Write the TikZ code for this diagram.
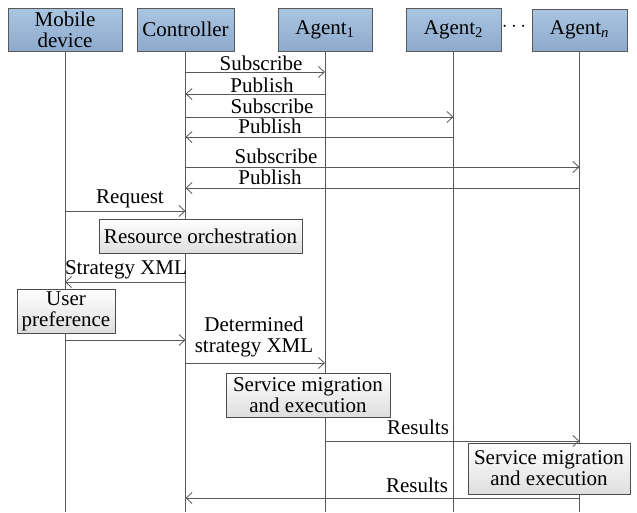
\documentclass[tikz,border=0pt]{standalone}
\usepackage{fontspec}
\setmainfont{Liberation Serif}
\usetikzlibrary{arrows.meta}
\definecolor{headtop}{HTML}{AAC5E1}
\definecolor{headbot}{HTML}{8DAACD}
\definecolor{edge}{HTML}{595959}

\begin{document}
\begin{tikzpicture}[
    x=1pt, y=-1pt,
    font=\fontsize{21}{21}\selectfont,
    actor/.style={draw=edge, line width=0.9pt, top color=headtop, bottom color=headbot,
        minimum height=43pt, inner sep=1pt, align=center},
    task/.style={draw=black!70, line width=0.8pt, top color=white, bottom color=black!13,
        inner sep=1pt, align=center},
    lifeline/.style={draw=edge, line width=0.8pt},
    msg/.style={draw=edge, line width=0.8pt, -{Straight Barb[length=6pt, width=11pt]}},
    lbl/.style={anchor=base, inner sep=0pt}
]
\useasboundingbox (0,0) rectangle (637,512);

\node[actor, minimum width=114pt] (mob) at (65,29.5) {Mobile\\device};
\node[actor, minimum width=97pt] (ctrl) at (185.5,29.5) {Controller};
\node[actor, minimum width=94pt] (ag1) at (325,29.5) {Agent\textsubscript{1}};
\node[actor, minimum width=95pt] (ag2) at (453.5,29.5) {Agent\textsubscript{2}};
\node[actor, minimum width=95pt, minimum height=42pt] (agn) at (579.5,30) {Agent\textsubscript{\textit{n}}};
\node (dots) at (514,27) {$\cdots$};

\foreach \n in {mob,ctrl,ag1,ag2,agn}{\draw[lifeline] (\n.south) -- (\n |- 0,512);}

\node[task, minimum width=203pt, minimum height=34pt] (orch) at (200.5,236) {Resource orchestration};
\node[task, minimum width=98pt, minimum height=44pt] (pref) at (66,311) {User\\preference};
\node[task, minimum width=164pt, minimum height=44pt] (exec1) at (308,395) {Service migration\\and execution};
\node[task, minimum width=162pt, minimum height=51pt] (exec2) at (549,468.5) {Service migration\\and execution};

\foreach \a/\b/\y/\lx/\ly/\txt in {ctrl/ag1/72/261/70/Subscribe, ag1/ctrl/94/262/92/Publish,
    ctrl/ag2/117/272/113/Subscribe, ag2/ctrl/137/270/133/Publish,
    ctrl/agn/167/276/163/Subscribe, agn/ctrl/188/270/184/Publish,
    mob/ctrl/211/130/203/Request, ctrl/mob/282/126/274/Strategy XML,
    ag1/agn/441/418/434/Results, agn/ctrl/498/417/492/Results}{
  \draw[msg] (\a |- 0,\y) -- (\b |- 0,\y);
  \node[lbl] (m\y) at (\lx,\ly) {\txt};
}
\draw[msg] (mob |- 0,340) -- (ctrl |- 0,340);
\draw[msg] (ctrl |- 0,363) -- (ag1 |- 0,363);
\node[anchor=south, inner sep=0pt, align=center] (m363) at (254,357) {Determined\\strategy XML};
\end{tikzpicture}
\end{document}
